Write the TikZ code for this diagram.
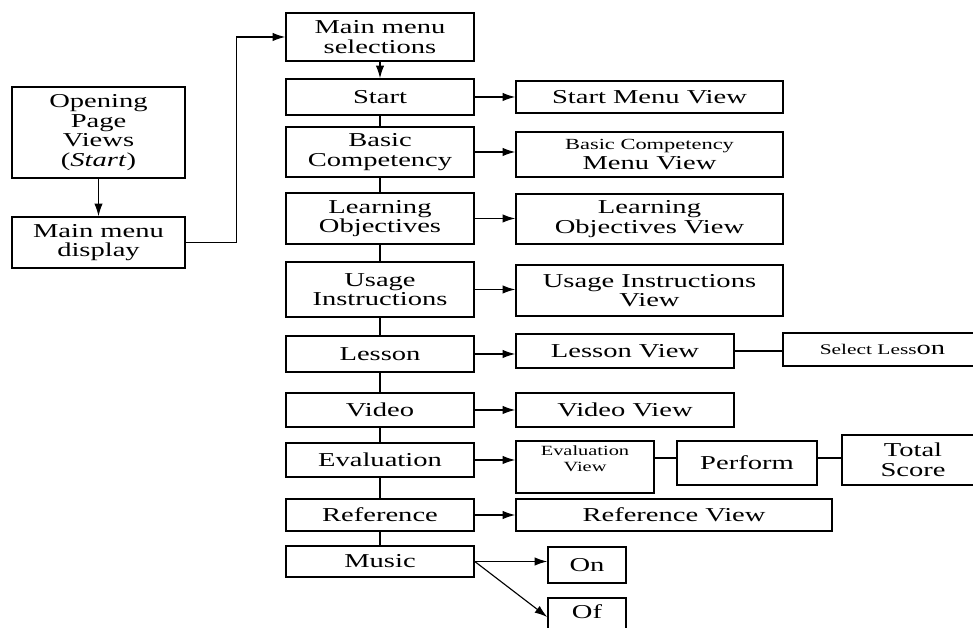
\documentclass[tikz,border=0pt]{standalone}
\usepackage{fontspec}
\setmainfont{Liberation Serif}[FakeStretch=1.45]
\usetikzlibrary{arrows.meta,calc}
\begin{document}
\begin{tikzpicture}[x=0.025cm,y=-0.025cm,
 box/.style={draw, line width=1.1pt, inner sep=0pt, align=center, font=\fontsize{14}{14}\selectfont},
 bb/.style args={#1/#2/#3/#4}{minimum width={(#3-#1)*0.025cm}, minimum height={(#4-#2)*0.025cm}, at={({(#1+#3)/2},{(#2+#4)/2})}},
 conn/.style={line width=0.8pt},
 arr/.style={conn, -{Latex[length=9pt,width=6pt]}}]
\useasboundingbox (0,0) rectangle (973,628);
\clip (0,0) rectangle (973,628);
\fill[white] (0,0) rectangle (973,628);
% left column
\node[box, bb=12/87/185/178] (open) {Opening\\Page\\Views\\(\textit{Start})};
\node[box, bb=12/217/185/268] (mmd) {Main menu\\display};
% menu column
\node[box, bb=286/13/474/61] (mms) {Main menu\\selections};
\node[box, bb=286/79/474/115] (start) {Start};
\node[box, bb=286/127/474/177] (basic) {Basic\\Competency};
\node[box, bb=286/193/474/244] (learn) {Learning\\Objectives};
\node[box, bb=286/262/474/317] (usage) {Usage\\Instructions};
\node[box, bb=286/336/474/372] (lesson) {Lesson};
\node[box, bb=286/393/474/427] (video) {Video};
\node[box, bb=286/443/474/477] (eval) {Evaluation};
\node[box, bb=286/499/474/531] (ref) {Reference};
\node[box, bb=286/546/474/577] (music) {Music};
% view column
\node[box, bb=516/81/783/113] (smv) {Start Menu View};
\node[box, bb=516/132/783/177] (bcmv) {{\fontsize{11}{14}\selectfont Basic Competency}\\Menu View};
\node[box, bb=516/194/783/244] (lov) {Learning\\Objectives View};
\node[box, bb=516/265/783/316] (uiv) {Usage Instructions\\View};
\node[box, bb=516/334/734/368] (lv) {Lesson View};
\node[box, bb=783/333/982/366] (sl) {{\fontsize{10.5}{12}\selectfont Select Less}on};
\node[box, bb=516/393/734/427] (vv) {Video View};
\node[box, bb=516/441/654/493, text depth=12pt, font=\fontsize{10}{12}\selectfont] (ev) {Evaluation\\View};
\node[box, bb=677/441/817/485] (perf) {Perform};
\node[box, bb=842/435/984/485] (ts) {Total\\Score};
\node[box, bb=516/499/832/531] (rv) {Reference View};
\node[box, bb=548/547/626/583] (on) {On};
\node[box, bb=548/598/626/650, font=\fontsize{14}{17}\selectfont] (off) {Of\\f};
% connectors
\draw[arr] (open) -- (mmd);
\draw[arr] (mmd.east) -- ++(51,0) |- (mms.west);
\draw[arr] (mms) -- (start);
\draw[conn] (start) -- (basic) (basic) -- (learn) (learn) -- (usage) (usage) -- (lesson)
  (lesson) -- (video) (video) -- (eval) (eval) -- (ref) (ref) -- (music);
\draw[arr] (start.east) -- (start.east -| smv.west);
\draw[arr] (basic.east) -- (basic.east -| bcmv.west);
\draw[arr] (learn.east) -- (learn.east -| lov.west);
\draw[arr] (usage.east) -- (usage.east -| uiv.west);
\draw[arr] (lesson.east) -- (lesson.east -| lv.west);
\draw[arr] (video.east) -- (video.east -| vv.west);
\draw[arr] (eval.east) -- (eval.east -| ev.west);
\draw[arr] (ref.east) -- (ref.east -| rv.west);
\draw[arr] (music.east) -- (music.east -| on.west);
\coordinate (offin) at ([yshift=0.175cm]off.west);
\draw[arr] (music.east) -- (offin);
\draw[conn] (lv.east) -- (lv.east -| sl.west);
\coordinate (pw) at ([yshift=0.125cm]perf.west);
\coordinate (pe) at ([yshift=0.125cm]perf.east);
\draw[conn] (pw -| ev.east) -- (pw);
\draw[conn] (pe) -- (pe -| ts.west);
\end{tikzpicture}
\end{document}
